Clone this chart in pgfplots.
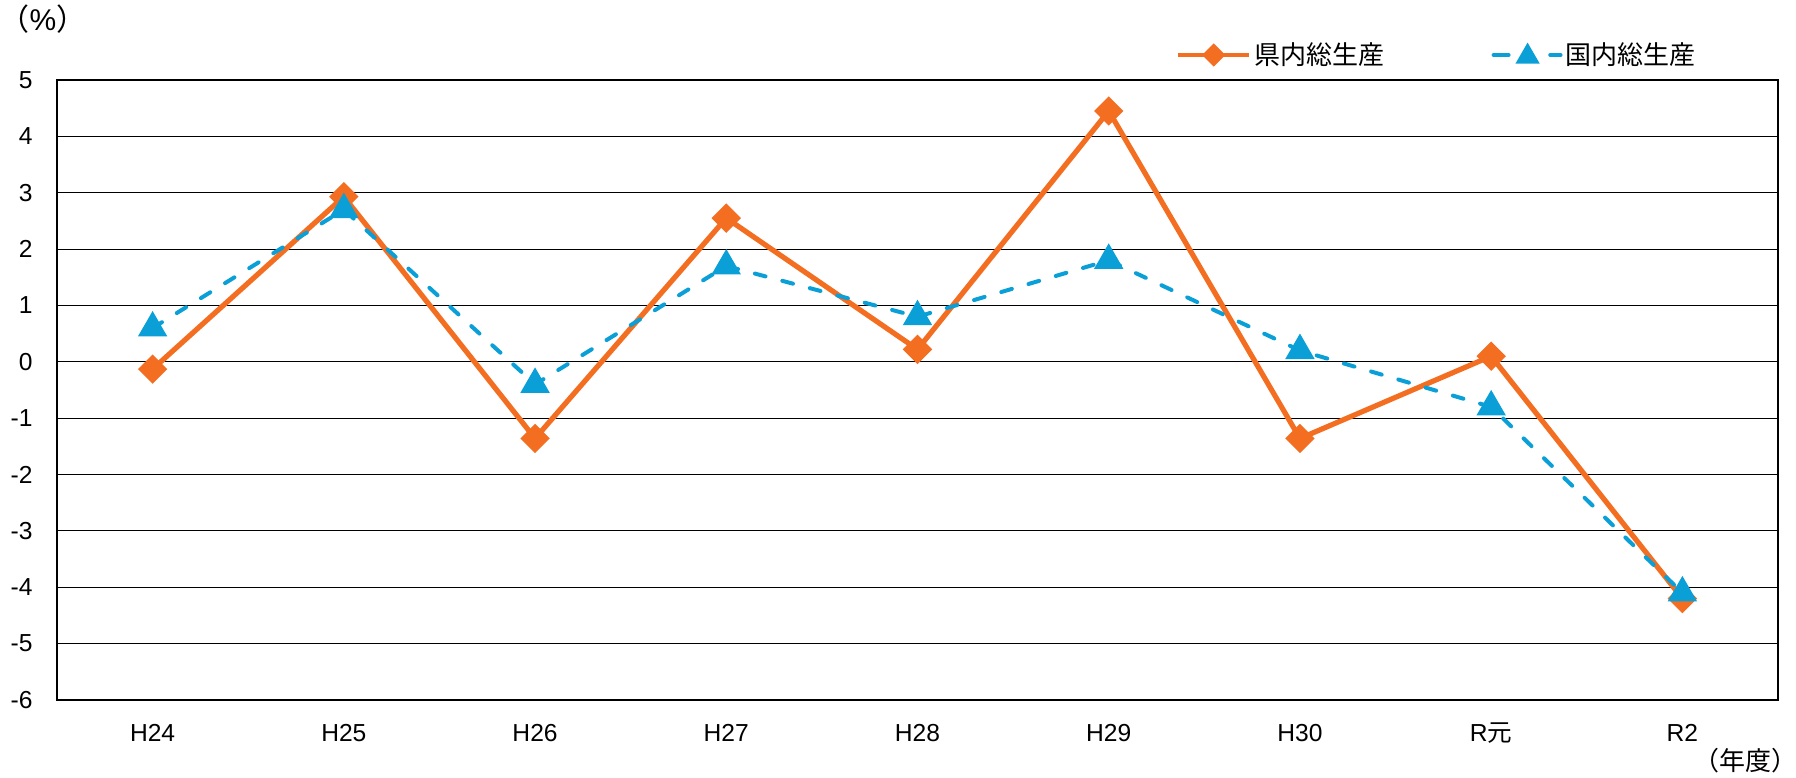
\documentclass[border=0pt]{standalone}
\usepackage{fontspec}
\setmainfont{Liberation Sans}
\newfontfamily\jp{Noto Sans CJK JP}
\usepackage{pgfplots}
\pgfplotsset{compat=1.18}

\definecolor{kenorange}{RGB}{243,110,33}
\definecolor{kokublue}{RGB}{10,160,215}

\begin{document}
\begin{tikzpicture}
\begin{axis}[
    name=ax,
    scale only axis,
    width=860.5pt, height=310pt,
    xmin=-0.5, xmax=8.5,
    ymin=-6, ymax=5,
    xtick={0,...,8},
    xticklabels={H24,H25,H26,H27,H28,H29,H30,R{\jp 元},R2},
    ytick={-6,-5,...,5},
    major tick length=0pt,
    ymajorgrids,
    grid style={black, line width=0.5pt},
    axis line style={black, line width=0.6pt},
    /pgf/number format/assume math mode=true,
    tick label style={font=\fontsize{12.3}{14}\selectfont},
    yticklabel style={inner sep=0pt, anchor=east, xshift=-12pt},
    xticklabel style={inner sep=0pt, anchor=north, text height=8.8pt,
        text depth=0pt, yshift=-12pt},
    clip=false,
    legend columns=2,
    legend cell align=left,
    legend style={at={(1,1)}, anchor=east, xshift=-39.5pt, yshift=12.5pt,
        draw=none, fill=none, inner sep=0pt,
        font=\fontsize{13}{15}\selectfont\jp,
        nodes={inner sep=1.5pt},
        /tikz/every even column/.append style={column sep=52pt}},
]
\addplot[color=kenorange, line width=2.6pt, mark=square*, mark size=3.9pt,
    mark options={rotate=45, solid},
    legend image code/.code={
        \draw[mark repeat=2, mark phase=2, mark size=2.9pt, line width=2.4pt]
            plot coordinates {(0pt,0pt) (17.75pt,0pt) (35.5pt,0pt)};}]
coordinates {
    (0,-0.13) (1,2.93) (2,-1.36) (3,2.55) (4,0.22)
    (5,4.45) (6,-1.36) (7,0.10) (8,-4.20)
};
\addlegendentry{県内総生産}
\addplot[color=kokublue, line width=2pt, line cap=round,
    dash pattern=on 5.5pt off 8.7pt, mark=triangle*, mark size=6.5pt,
    mark options={solid},
    legend image code/.code={
        \draw[solid, line cap=round, line width=2.2pt] (1.1pt,0pt) -- (8.4pt,0pt);
        \draw[solid, line cap=round, line width=2.2pt] (29.4pt,0pt) -- (34.4pt,0pt);
        \draw[solid] plot[only marks, mark size=5pt] coordinates {(18pt,-0.8pt)};}]
coordinates {
    (0,0.60) (1,2.70) (2,-0.40) (3,1.70) (4,0.80)
    (5,1.80) (6,0.20) (7,-0.80) (8,-4.10)
};
\addlegendentry{国内総生産}
\node[font=\fontsize{15}{17}\selectfont] at (rel axis cs:0,1) [xshift=-7pt, yshift=30.5pt] {{\jp （}\%{\jp ）}};
\node[font=\fontsize{13}{15}\selectfont\jp] at (rel axis cs:1,0) [xshift=-16.5pt, yshift=-30.5pt] {（年度）};
\end{axis}
\pgfresetboundingbox
\path ([shift={(-28.5pt,-38.7pt)}]ax.south west) rectangle ([shift={(9pt,40pt)}]ax.north east);
\end{tikzpicture}
\end{document}
